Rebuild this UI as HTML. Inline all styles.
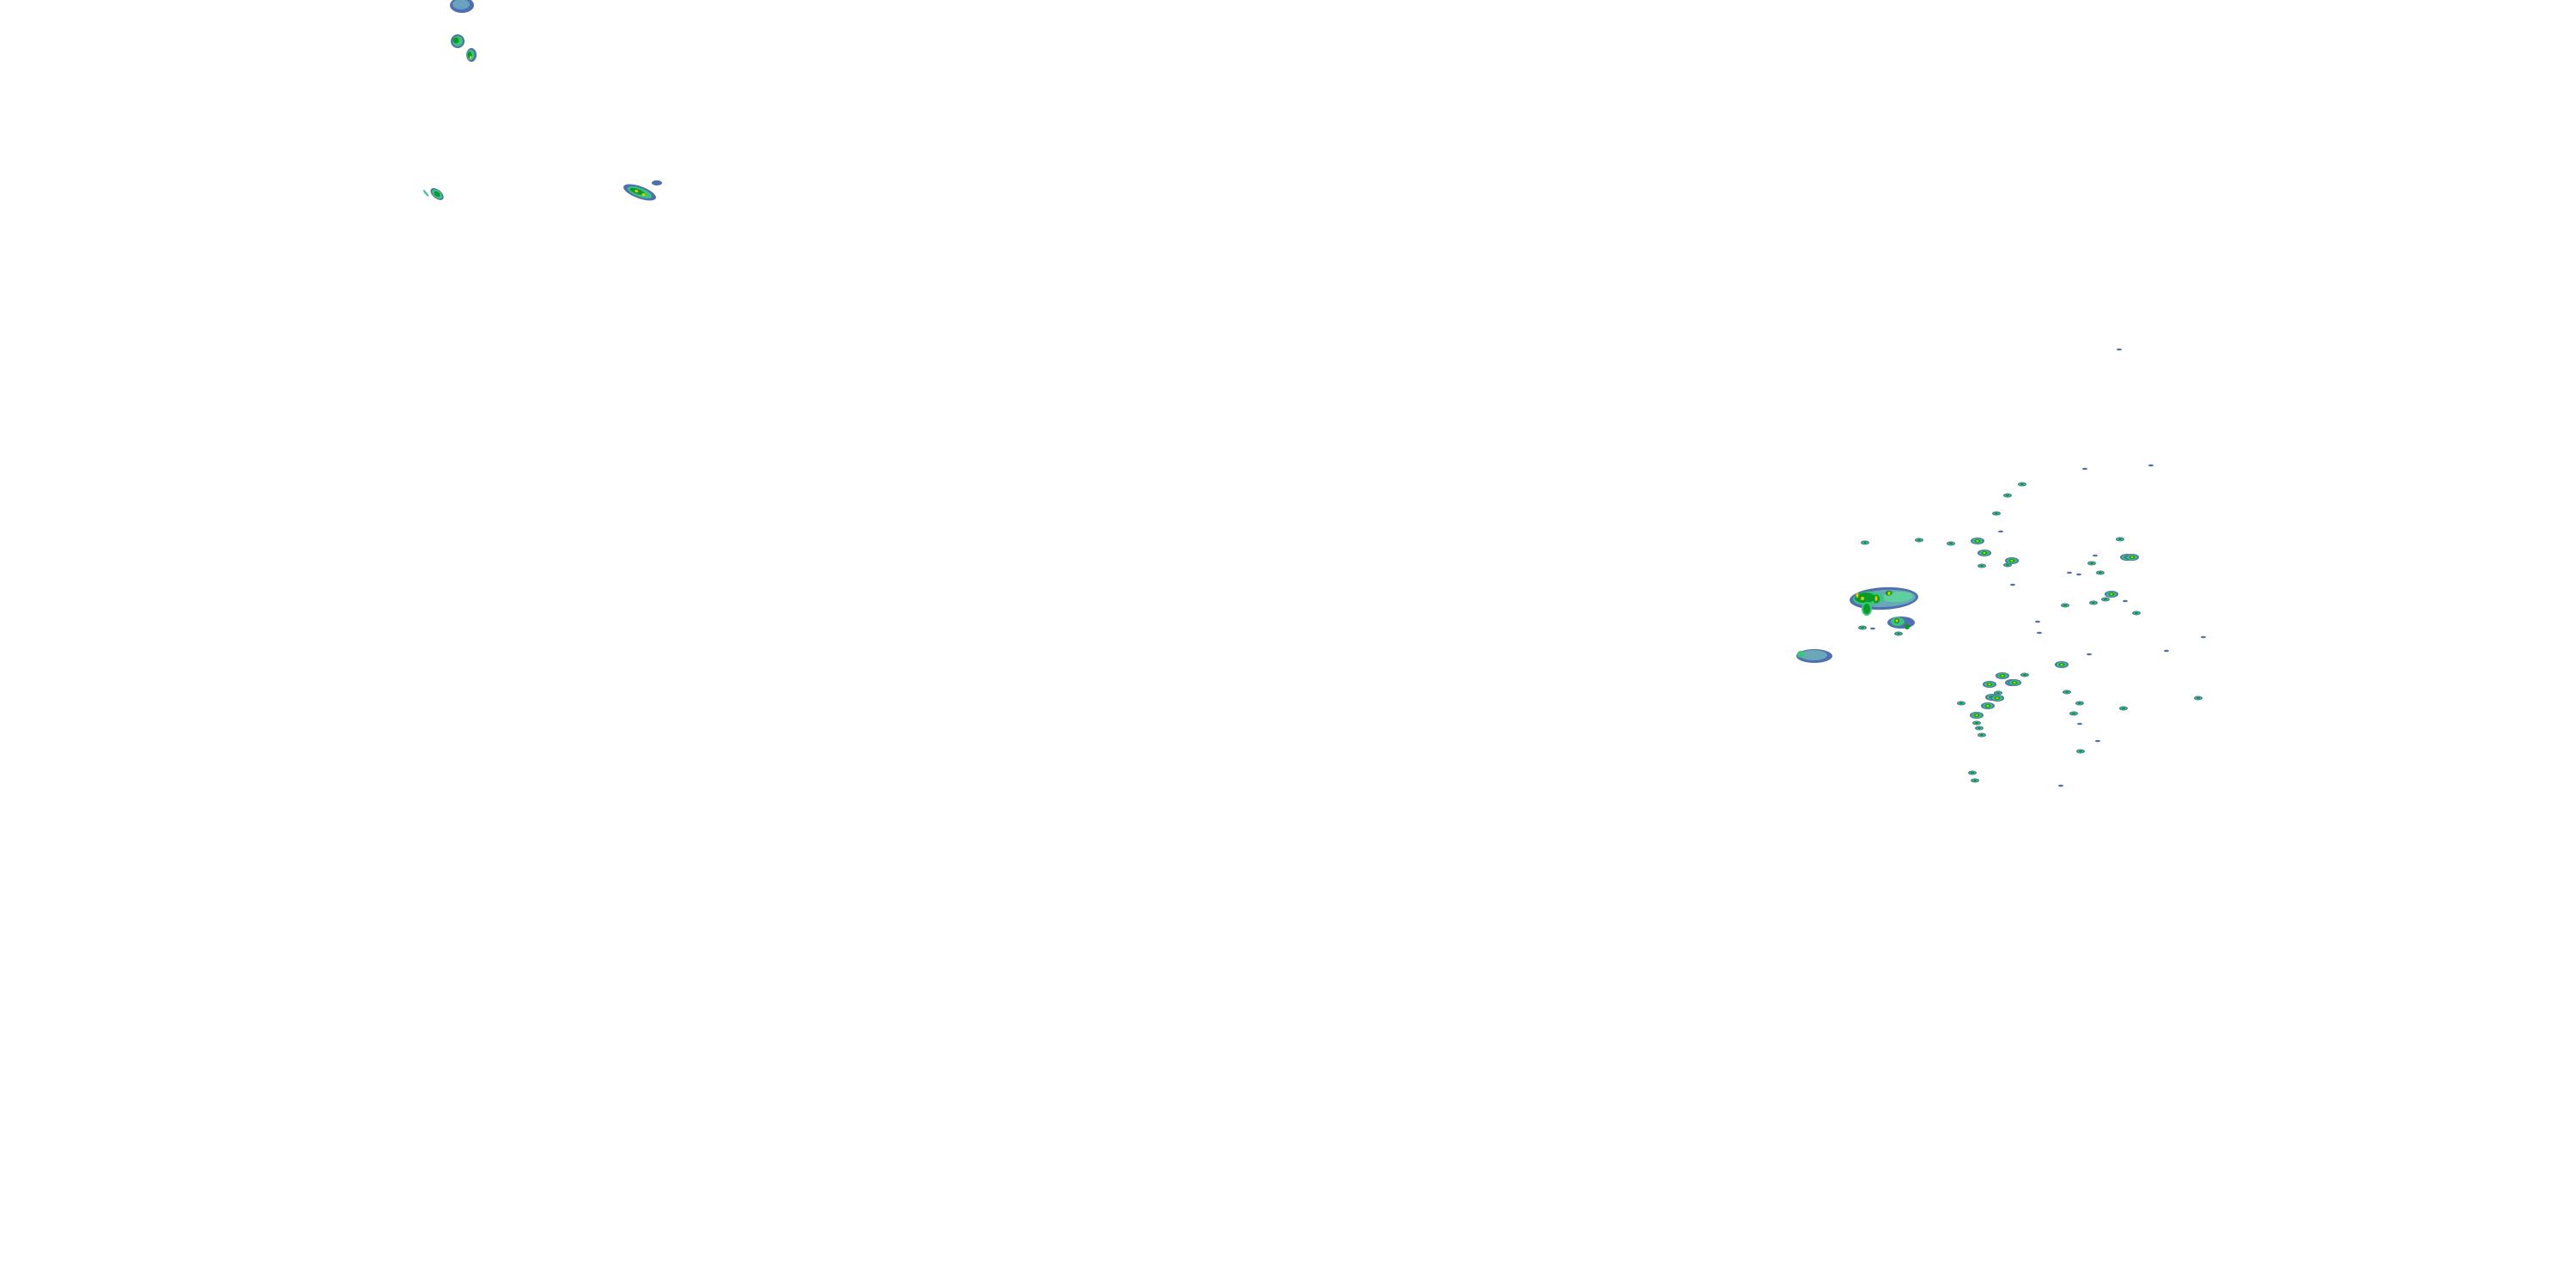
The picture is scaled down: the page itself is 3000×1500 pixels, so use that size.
<!DOCTYPE html>
<html><head><meta charset="utf-8"><style>html,body{margin:0;padding:0;background:#fff;width:3000px;height:1500px;overflow:hidden}</style></head>
<body>
<svg width="3000" height="1500" viewBox="0 0 3000 1500" xmlns="http://www.w3.org/2000/svg">
<defs>
<g id="s"><ellipse cx="0" cy="0" rx="5" ry="2.5" fill="#4f6fb0"/><ellipse cx="0" cy="0" rx="3.5" ry="1.8" fill="#3cc47c"/><ellipse cx="0" cy="0" rx="1.8" ry="1.2" fill="#0a9a2a"/></g>
<g id="m"><ellipse cx="0" cy="0" rx="8" ry="4" fill="#4f6fb0"/><ellipse cx="0" cy="0" rx="6" ry="3" fill="#3cc47c"/><ellipse cx="0" cy="0" rx="3.5" ry="2" fill="#0a9a2a"/><ellipse cx="0" cy="0" rx="1.5" ry="1" fill="#e8c800"/></g>
<g id="t"><ellipse cx="0" cy="0" rx="3" ry="1.2" fill="#4f6fb0"/></g>
</defs>
<!-- top-left cluster -->
<ellipse cx="538" cy="6" rx="14" ry="9" fill="#4f6fb0"/><ellipse cx="537" cy="5" rx="10" ry="6" fill="#6aa0c0"/>
<ellipse cx="533" cy="48" rx="8" ry="8" fill="#4f6fb0"/><ellipse cx="533" cy="48" rx="6" ry="6" fill="#3cc47c"/><ellipse cx="531" cy="47" rx="3.5" ry="3.5" fill="#0a9a2a"/>
<ellipse cx="549" cy="64" rx="6" ry="8" fill="#4f6fb0"/><ellipse cx="548" cy="64" rx="4.5" ry="6" fill="#3cc47c"/><ellipse cx="547" cy="64" rx="2.5" ry="4" fill="#0a9a2a"/><ellipse cx="548" cy="67" rx="1" ry="2" fill="#e8c800"/>
<g transform="translate(509,226) rotate(40)"><ellipse rx="9" ry="5" fill="#4f6fb0"/><ellipse rx="7" ry="4" fill="#3cc47c"/><ellipse rx="4" ry="2.5" fill="#0a9a2a"/></g>
<g transform="translate(496,225) rotate(50)"><ellipse rx="5" ry="1.2" fill="#3cc47c"/></g>
<g transform="translate(745,224) rotate(20)"><ellipse rx="20" ry="7" fill="#4f6fb0"/><ellipse rx="15" ry="5" fill="#3cc47c"/><ellipse cx="-3" rx="9" ry="3" fill="#0a9a2a"/><ellipse cx="-4" rx="2" ry="1.5" fill="#e8c800"/><ellipse cx="5" cy="1" rx="2" ry="1.5" fill="#e8c800"/></g>
<ellipse cx="765" cy="213" rx="6" ry="3" fill="#4f6fb0"/>
<!-- big blob -->
<g transform="rotate(-3 2194 697)">
<ellipse cx="2194" cy="697" rx="40" ry="13" fill="#4f6fb0"/>
<ellipse cx="2196" cy="697" rx="35" ry="10" fill="#6aa8b8"/>
<ellipse cx="2210" cy="696" rx="18" ry="6" fill="#5ed0a0"/>
<ellipse cx="2176" cy="696" rx="18" ry="8" fill="#3cc47c"/>
<ellipse cx="2172" cy="695" rx="12" ry="6" fill="#0a9a2a"/>
<ellipse cx="2185" cy="697" rx="4" ry="5" fill="#0a9a2a"/>
<ellipse cx="2200" cy="691" rx="4" ry="3" fill="#0a9a2a"/>
</g>
<ellipse cx="2163" cy="693" rx="1.5" ry="3" fill="#e8c800"/>
<ellipse cx="2169" cy="697" rx="2" ry="2" fill="#e8c800"/>
<ellipse cx="2185" cy="697" rx="1.5" ry="3" fill="#e8c800"/>
<ellipse cx="2200" cy="691" rx="1.5" ry="2" fill="#e8c800"/>
<ellipse cx="2174" cy="709" rx="5" ry="7" fill="#0a9a2a" stroke="#3cc47c" stroke-width="2"/>
<ellipse cx="2214" cy="725" rx="16" ry="7" fill="#4f6fb0"/><ellipse cx="2210" cy="724" rx="8" ry="5" fill="#3cc47c"/><ellipse cx="2209" cy="723" rx="3" ry="3" fill="#0a9a2a"/><ellipse cx="2209" cy="723" rx="1.5" ry="1.5" fill="#e8c800"/>
<ellipse cx="2221" cy="730" rx="3" ry="3" fill="#0a9a2a"/>
<use href="#s" x="2169" y="731"/><use href="#s" x="2211" y="738"/><use href="#t" x="2181" y="732"/>
<ellipse cx="2113" cy="764" rx="21" ry="8" fill="#4f6fb0"/><ellipse cx="2112" cy="763" rx="16" ry="6" fill="#6aa8b8"/><ellipse cx="2097" cy="762" rx="4" ry="4" fill="#3cc47c"/>
<!-- scattered -->
<use href="#t" x="2428" y="546"/><use href="#s" x="2355" y="564"/><use href="#s" x="2338" y="577"/>
<use href="#s" x="2325" y="598"/><use href="#t" x="2330" y="619"/><use href="#m" x="2303" y="630"/>
<use href="#m" x="2311" y="644"/><use href="#m" x="2343" y="653"/><use href="#s" x="2338" y="658"/>
<use href="#s" x="2308" y="659"/><use href="#t" x="2344" y="681"/><use href="#s" x="2172" y="632"/>
<use href="#s" x="2235" y="629"/><use href="#s" x="2272" y="633"/><use href="#s" x="2469" y="628"/>
<use href="#t" x="2440" y="647"/><use href="#m" x="2477" y="649"/><use href="#m" x="2483" y="649"/>
<use href="#s" x="2436" y="656"/><use href="#s" x="2446" y="667"/><use href="#t" x="2410" y="667"/>
<use href="#t" x="2421" y="669"/><use href="#m" x="2459" y="692"/><use href="#s" x="2452" y="698"/>
<use href="#s" x="2438" y="702"/><use href="#s" x="2405" y="705"/><use href="#t" x="2475" y="700"/>
<use href="#s" x="2488" y="714"/><use href="#t" x="2373" y="724"/><use href="#t" x="2375" y="737"/>
<use href="#t" x="2433" y="762"/><use href="#m" x="2401" y="774"/><use href="#s" x="2358" y="786"/>
<use href="#m" x="2332" y="787"/><use href="#m" x="2343" y="795"/><use href="#m" x="2346" y="795"/><use href="#m" x="2317" y="797"/>
<use href="#s" x="2327" y="807"/><use href="#m" x="2320" y="812"/><use href="#m" x="2326" y="813"/><use href="#m" x="2315" y="822"/>
<use href="#m" x="2302" y="833"/><use href="#s" x="2302" y="842"/><use href="#s" x="2305" y="848"/>
<use href="#s" x="2308" y="856"/><use href="#s" x="2284" y="819"/><use href="#s" x="2407" y="806"/>
<use href="#s" x="2422" y="819"/><use href="#s" x="2415" y="831"/><use href="#t" x="2422" y="843"/>
<use href="#s" x="2473" y="825"/><use href="#s" x="2560" y="813"/><use href="#t" x="2443" y="863"/>
<use href="#s" x="2423" y="875"/><use href="#s" x="2297" y="900"/><use href="#s" x="2300" y="909"/>
<use href="#t" x="2400" y="915"/><use href="#t" x="2523" y="758"/><use href="#t" x="2468" y="407"/>
<use href="#t" x="2505" y="542"/><use href="#t" x="2566" y="742"/>
</svg>
</body></html>
